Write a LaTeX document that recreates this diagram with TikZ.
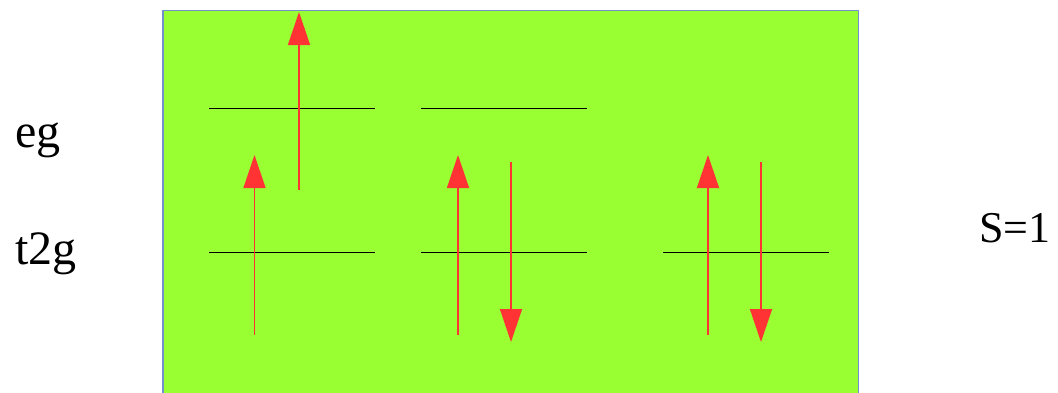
\documentclass[tikz,border=0pt]{standalone}
\usepackage{fontspec}
\setmainfont{Liberation Serif}
\usetikzlibrary{arrows.meta}
\definecolor{boxgreen}{HTML}{99FF33}
\definecolor{boxedge}{HTML}{7391C8}
\definecolor{spinred}{HTML}{FF3333}
\tikzset{
  levelline/.style={draw=black, line width=1pt},
  spinarrow/.style={draw=spinred, line width=1.4pt, -{Triangle[width=22pt,length=33pt]}},
  lbl/.style={font=\fontsize{48}{54}\selectfont, anchor=base west, inner sep=0pt},
}
\begin{document}
\begin{tikzpicture}[x=1pt,y=-1pt]
\useasboundingbox (0,0) rectangle (1058,392);
\begin{scope}
\clip (0,0) rectangle (1058,392);
\draw[fill=boxgreen, draw=boxedge, line width=1.3pt] (163,10.5) rectangle (858.5,400);
\end{scope}
% levels
\coordinate (e1a) at (209,108.5); \coordinate (e1b) at (375,108.5);
\coordinate (e2a) at (421,108.5); \coordinate (e2b) at (587,108.5);
\coordinate (t1a) at (209,252.5); \coordinate (t1b) at (375,252.5);
\coordinate (t2a) at (421,252.5); \coordinate (t2b) at (587,252.5);
\coordinate (t3a) at (663,252.5); \coordinate (t3b) at (829,252.5);
\draw[levelline] (e1a) -- (e1b);
\draw[levelline] (e2a) -- (e2b);
\draw[levelline] (t1a) -- (t1b);
\draw[levelline] (t2a) -- (t2b);
\draw[levelline] (t3a) -- (t3b);
% spins
\coordinate (a1s) at (299,190); \coordinate (a1e) at (299,12);
\coordinate (a2s) at (254.5,335); \coordinate (a2e) at (254.5,155);
\coordinate (a3s) at (458,335); \coordinate (a3e) at (458,155);
\coordinate (a4s) at (511,162); \coordinate (a4e) at (511,342);
\coordinate (a5s) at (708,335); \coordinate (a5e) at (708,155);
\coordinate (a6s) at (761,162); \coordinate (a6e) at (761,342);
\draw[spinarrow] (a1s) -- (a1e);
\draw[spinarrow] (a2s) -- (a2e);
\draw[spinarrow] (a3s) -- (a3e);
\draw[spinarrow] (a4s) -- (a4e);
\draw[spinarrow] (a5s) -- (a5e);
\draw[spinarrow] (a6s) -- (a6e);
% labels
\node[lbl] (eg) at (15,147) {eg};
\node[lbl] (t2g) at (15,264) {t2g};
\node[lbl, font=\fontsize{44}{50}\selectfont] (spin) at (979,242) {S=1};
\end{tikzpicture}
\end{document}
